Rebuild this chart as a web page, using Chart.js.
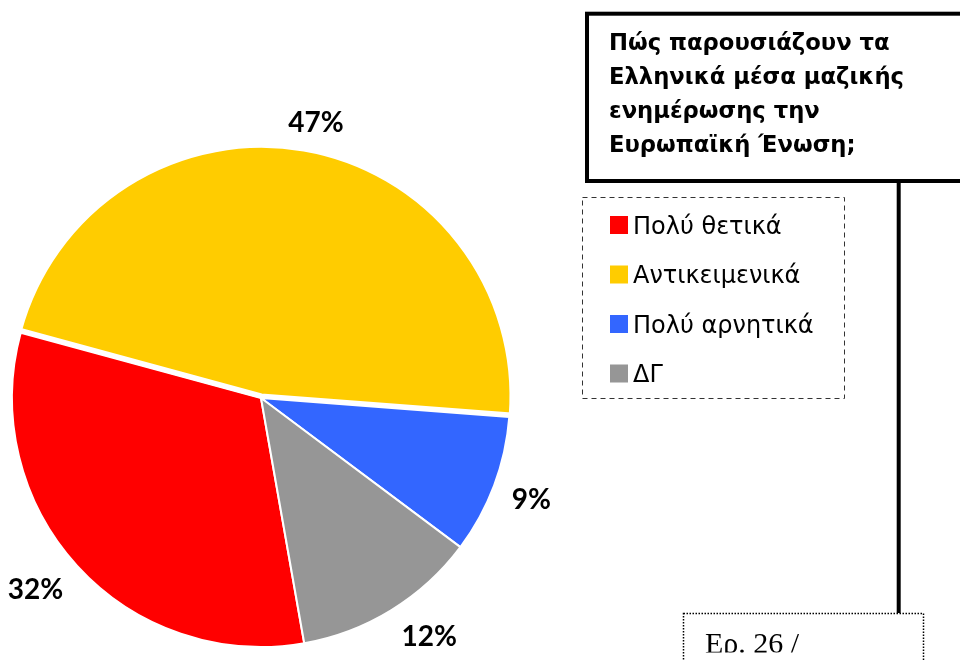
<!DOCTYPE html>
<html>
<head>
<meta charset="utf-8">
<script src="https://cdn.jsdelivr.net/npm/chart.js@4.4.1/dist/chart.umd.min.js"></script>
<style>
html,body{margin:0;padding:0;background:#fff;}
#wrap{position:relative;width:960px;height:660px;overflow:hidden;}
</style>
</head>
<body>
<div id="wrap"><canvas id="c" width="960" height="660"></canvas></div>
<script>
// ---- data ----
const categories = ['Πολύ θετικά', 'Αντικειμενικά', 'Πολύ αρνητικά', 'ΔΓ'];
const values = [32, 47, 9, 12];
const sliceColors = ['#FF0000', '#FFCC00', '#3366FF', '#969696'];
const titleLines = ['Πώς παρουσιάζουν τα', 'Ελληνικά μέσα μαζικής', 'ενημέρωσης την', 'Ευρωπαϊκή Ένωση;'];
const noteText = 'Ερ. 26 /';

// ---- decorations & labels plugin ----
const decor = {
  id: 'decor',
  afterDatasetsDraw(chart) {
    const ctx = chart.ctx;
    const meta = chart.getDatasetMeta(0);
    ctx.save();
    ctx.font = 'bold 28px Lato';
    ctx.fillStyle = '#000';
    ctx.textAlign = 'center';
    ctx.textBaseline = 'middle';
    const clamp = v => Math.max(-1, Math.min(1, v));
    meta.data.forEach((arc, i) => {
      const p = arc.getProps(['x', 'y', 'startAngle', 'endAngle', 'outerRadius'], true);
      const mid = (p.startAngle + p.endAngle) / 2;
      const txt = chart.data.datasets[0].data[i] + '%';
      const hw = ctx.measureText(txt).width / 2, hh = 11;
      const d = p.outerRadius + 19;
      const c = Math.cos(mid), s = Math.sin(mid);
      const x = p.x + d * c + clamp(c * 2) * hw;
      const y = p.y + d * s + clamp(s * 2) * hh;
      ctx.fillText(txt, x, y);
    });
    ctx.restore();
  },
  afterDraw(chart) {
    const ctx = chart.ctx;
    ctx.save();
    // title box
    ctx.strokeStyle = '#000';
    ctx.lineWidth = 4;
    ctx.strokeRect(587, 13.7, 420, 167.3);
    ctx.fillStyle = '#000';
    ctx.font = 'bold 22.7px "DejaVu Sans"';
    ctx.textAlign = 'left';
    ctx.textBaseline = 'alphabetic';
    titleLines.forEach((t, i) => ctx.fillText(t, 609, 49.5 + i * 34.2));
    // connector
    ctx.beginPath();
    ctx.moveTo(898.7, 183);
    ctx.lineTo(898.7, 613);
    ctx.stroke();
    // legend box
    ctx.lineWidth = 1;
    ctx.strokeStyle = '#333';
    ctx.setLineDash([5, 4]);
    ctx.strokeRect(582.5, 197.5, 262, 201);
    ctx.setLineDash([]);
    const ds = chart.data.datasets[0];
    ctx.font = '24px "DejaVu Sans"';
    chart.data.labels.forEach((lab, i) => {
      const y0 = 216 + i * 49.5;
      ctx.fillStyle = ds.backgroundColor[i];
      ctx.fillRect(610, y0, 18, 18);
      ctx.fillStyle = '#000';
      ctx.fillText(lab, 633, y0 + 17.5);
    });
    // note box (dotted)
    ctx.lineWidth = 1.5;
    ctx.strokeStyle = '#000';
    ctx.setLineDash([1.5, 1.5]);
    ctx.strokeRect(683.5, 613.5, 240, 80);
    ctx.setLineDash([]);
    ctx.save();
    ctx.beginPath();
    ctx.rect(684, 614, 238, 38.5);
    ctx.clip();
    ctx.font = '30px "Liberation Serif"';
    ctx.fillText(noteText, 705, 653);
    ctx.restore();
    ctx.restore();
  }
};

new Chart(document.getElementById('c'), {
  type: 'pie',
  data: {
    labels: categories,
    datasets: [{
      data: values,
      backgroundColor: sliceColors,
      borderColor: '#FFFFFF',
      borderWidth: [2, 5, 2, 2],
      offset: [0, 8, 0, 0]
    }]
  },
  options: {
    responsive: false,
    animation: false,
    rotation: 170,
    radius: 249,
    layout: { padding: { left: 0, right: 438, top: 136, bottom: 0 } },
    plugins: { legend: { display: false }, tooltip: { enabled: false } }
  },
  plugins: [decor]
});
</script>
</body>
</html>
